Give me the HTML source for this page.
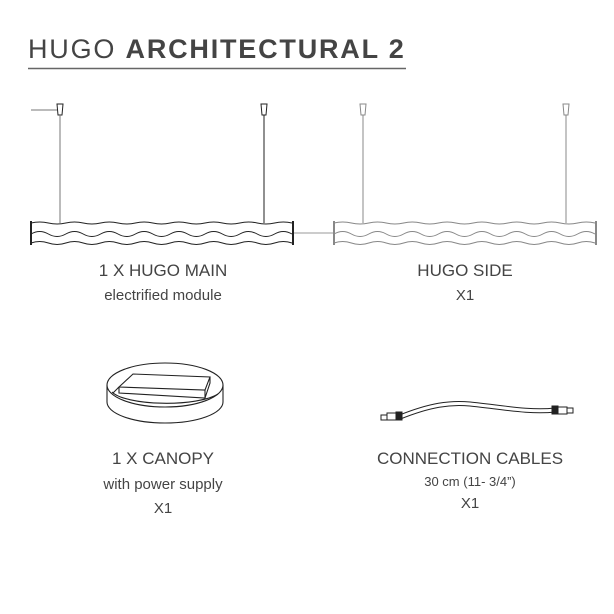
<!DOCTYPE html>
<html><head><meta charset="utf-8"><style>
body{margin:0;background:#fff;}
svg{display:block}
text{font-family:"Liberation Sans",sans-serif;fill:#444;}
</style></head><body>
<svg width="614" height="614" viewBox="0 0 614 614">
<text x="28" y="58" font-size="27" letter-spacing="1.8" fill="#555">HUGO <tspan font-weight="bold">ARCHITECTURAL 2</tspan></text>
<line x1="28" y1="68.5" x2="406" y2="68.5" stroke="#666" stroke-width="1.5"/>

<!-- main lamp -->
<g stroke="#222" fill="none" stroke-width="1">
<line x1="31" y1="110" x2="57" y2="110" stroke="#777"/>
<path d="M57,104 h6 l-1,11 h-4 z" fill="#fff"/>
<line x1="60" y1="115" x2="60" y2="223" stroke="#777"/>
<path d="M261,104 h6 l-1,11 h-4 z" fill="#fff"/>
<line x1="264" y1="115" x2="264" y2="223"/>
<path d="M31,223 q8.7,-2 17.4,0 t17.4,0 t17.4,0 t17.4,0 t17.4,0 t17.4,0 t17.4,0 t17.4,0 t17.4,0 t17.4,0 t17.4,0 t17.4,0 t17.4,0 t17.4,0 t17.4,0"/>
<path d="M31,234 q8.7,-5 17.4,0 t17.4,0 t17.4,0 t17.4,0 t17.4,0 t17.4,0 t17.4,0 t17.4,0 t17.4,0 t17.4,0 t17.4,0 t17.4,0 t17.4,0 t17.4,0 t17.4,0"/>
<path d="M31,243 q8.7,-3 17.4,0 t17.4,0 t17.4,0 t17.4,0 t17.4,0 t17.4,0 t17.4,0 t17.4,0 t17.4,0 t17.4,0 t17.4,0 t17.4,0 t17.4,0 t17.4,0 t17.4,0"/>
<line x1="31" y1="221" x2="31" y2="245" stroke-width="2"/>
<line x1="293" y1="221" x2="293" y2="245" stroke-width="2"/>
</g>
<line x1="294" y1="233" x2="334" y2="233" stroke="#bbb" stroke-width="1.5"/>

<!-- side lamp -->
<g stroke="#888" fill="none" stroke-width="1">
<path d="M360,104 h6 l-1,11 h-4 z" fill="#fff"/>
<line x1="363" y1="115" x2="363" y2="223"/>
<path d="M563,104 h6 l-1,11 h-4 z" fill="#fff"/>
<line x1="566" y1="115" x2="566" y2="223"/>
<path d="M334,223 q8.7,-2 17.4,0 t17.4,0 t17.4,0 t17.4,0 t17.4,0 t17.4,0 t17.4,0 t17.4,0 t17.4,0 t17.4,0 t17.4,0 t17.4,0 t17.4,0 t17.4,0 t17.4,0"/>
<path d="M334,234 q8.7,-5 17.4,0 t17.4,0 t17.4,0 t17.4,0 t17.4,0 t17.4,0 t17.4,0 t17.4,0 t17.4,0 t17.4,0 t17.4,0 t17.4,0 t17.4,0 t17.4,0 t17.4,0"/>
<path d="M334,243 q8.7,-3 17.4,0 t17.4,0 t17.4,0 t17.4,0 t17.4,0 t17.4,0 t17.4,0 t17.4,0 t17.4,0 t17.4,0 t17.4,0 t17.4,0 t17.4,0 t17.4,0 t17.4,0"/>
<line x1="334" y1="221" x2="334" y2="245" stroke-width="2"/>
<line x1="596" y1="221" x2="596" y2="245" stroke-width="2"/>
</g>

<text x="163" y="276" font-size="17" text-anchor="middle">1 X HUGO MAIN</text>
<text x="163" y="300" font-size="15" text-anchor="middle">electrified module</text>
<text x="465" y="276" font-size="17" text-anchor="middle">HUGO SIDE</text>
<text x="465" y="300" font-size="15" text-anchor="middle">X1</text>

<!-- canopy -->
<g stroke="#222" fill="none" stroke-width="1.1">
<path d="M107,385 v17 a58,21 0 0 0 116,0 v-17"/>
<ellipse cx="165" cy="385" rx="58" ry="22" fill="#fff"/>
<path d="M112,392 a56,15 0 0 0 106,2"/>
<path d="M119,387 l14,-13 l77,3 l-5,13 z" fill="#fff"/>
<path d="M119,387 l0,6 l86,5 l0,-8"/>
<path d="M210,377 l0,6 l-5,15"/>
<path d="M119,387 l-6,6"/>
</g>

<text x="163" y="464" font-size="17" text-anchor="middle">1 X CANOPY</text>
<text x="163" y="489" font-size="15" text-anchor="middle">with power supply</text>
<text x="163" y="513" font-size="15" text-anchor="middle">X1</text>

<!-- cable -->
<g stroke="#222" fill="none">
<path d="M400,417 C430,405 450,402 470,404 C500,407 530,413 555,410" stroke-width="5"/>
<path d="M400,417 C430,405 450,402 470,404 C500,407 530,413 555,410" stroke="#fff" stroke-width="3"/>
<rect x="381" y="415" width="6" height="5" fill="#fff" stroke-width="1"/>
<rect x="387" y="413" width="9" height="7" fill="#fff" stroke-width="1"/>
<rect x="396" y="412" width="6" height="8" fill="#222" stroke-width="1"/>
<rect x="552" y="406" width="6" height="8" fill="#222" stroke-width="1"/>
<rect x="558" y="407" width="9" height="7" fill="#fff" stroke-width="1"/>
<rect x="567" y="408" width="6" height="5" fill="#fff" stroke-width="1"/>
</g>

<text x="470" y="464" font-size="17" text-anchor="middle">CONNECTION CABLES</text>
<text x="470" y="486" font-size="13" text-anchor="middle">30 cm (11- 3/4”)</text>
<text x="470" y="508" font-size="15" text-anchor="middle">X1</text>
</svg>
</body></html>
